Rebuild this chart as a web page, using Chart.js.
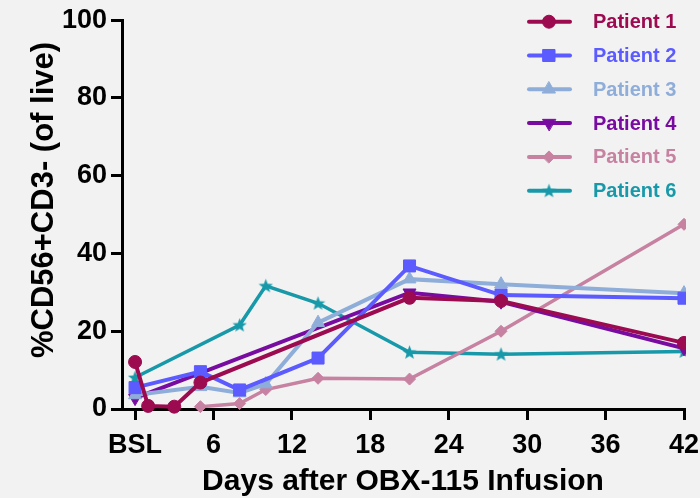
<!DOCTYPE html>
<html>
<head>
<meta charset="utf-8">
<script src="https://cdn.jsdelivr.net/npm/chart.js@4/dist/chart.umd.min.js"></script>
<style>
  body { margin: 0; background: #f2f2f2; }
  canvas { display: block; }
</style>
</head>
<body>
<canvas id="chart" width="700" height="498"></canvas>
<script>
// データ
const patientNames = ['Patient 1', 'Patient 2', 'Patient 3', 'Patient 4', 'Patient 5', 'Patient 6'];
const p1Days = [0, 1, 3, 5, 21, 28, 42];
const p1Vals = [12.1, 0.8, 0.6, 6.8, 28.6, 27.8, 17.0];
const p2Days = [0, 5, 8, 14, 21, 28, 42];
const p2Vals = [5.5, 9.6, 4.9, 13.1, 36.8, 29.3, 28.5];
const p3Days = [0, 5, 8, 10, 14, 21, 28, 42];
const p3Vals = [3.6, 5.7, 4.1, 6.4, 22.2, 33.4, 32.1, 29.8];
const p4Days = [0, 21, 28, 42];
const p4Vals = [2.8, 29.9, 27.6, 15.6];
const p5Days = [5, 8, 10, 14, 21, 28, 42];
const p5Vals = [0.6, 1.4, 5.0, 7.9, 7.7, 20.0, 47.5];
const p6Days = [0, 8, 10, 14, 21, 28, 42];
const p6Vals = [8.1, 21.6, 31.7, 27.2, 14.6, 14.1, 14.8];

const xTickValues = [0, 6, 12, 18, 24, 30, 36, 42];
const xTickLabels = ['BSL', '6', '12', '18', '24', '30', '36', '42'];
const yTitle = '%CD56+CD3- (of live)';
const xTitle = 'Days after OBX-115 Infusion';

const FONT = '"Liberation Sans", Arial, sans-serif';

// 星形マーカー用の画像
function makeStar(color, size) {
  const c = document.createElement('canvas');
  c.width = size;
  c.height = size;
  const g = c.getContext('2d');
  const cx = size / 2, cy = size / 2 + 0.5;
  const outer = size / 2, inner = outer * 0.42;
  g.beginPath();
  for (let i = 0; i < 10; i++) {
    const r = i % 2 === 0 ? outer : inner;
    const a = -Math.PI / 2 + i * Math.PI / 5;
    g.lineTo(cx + r * Math.cos(a), cy + r * Math.sin(a));
  }
  g.closePath();
  g.fillStyle = color;
  g.fill();
  return c;
}

const toPoints = (days, vals) => days.map((d, i) => ({ x: d, y: vals[i] }));

const series = [
  { days: p1Days, vals: p1Vals, color: '#9c0a50', style: 'circle', radius: 6.5, rotation: 0, width: 4 },
  { days: p2Days, vals: p2Vals, color: '#5b5bff', style: 'rect', radius: 8.5, rotation: 0, width: 4 },
  { days: p3Days, vals: p3Vals, color: '#8fadd9', style: 'triangle', radius: 7.5, rotation: 0, width: 4 },
  { days: p4Days, vals: p4Vals, color: '#780ca0', style: 'triangle', radius: 7.5, rotation: 180, width: 4 },
  { days: p5Days, vals: p5Vals, color: '#c781a1', style: 'rectRot', radius: 6, rotation: 0, width: 3.5 },
  { days: p6Days, vals: p6Vals, color: '#1799a9', style: null, radius: 7, rotation: 0, width: 3.5 }
];
series[5].style = makeStar(series[5].color, 15);

const datasets = series.map((s, i) => ({
  label: patientNames[i],
  data: toPoints(s.days, s.vals),
  borderColor: s.color,
  backgroundColor: s.color,
  borderWidth: s.width,
  pointStyle: s.style,
  pointRadius: s.radius,
  pointRotation: s.rotation,
  pointBorderWidth: 1,
  pointBackgroundColor: s.color,
  pointBorderColor: s.color,
  tension: 0,
  clip: { left: 12, top: 12, right: 2, bottom: 12 }
}));

// 凡例（線＋マーカー＋色付き文字）と縦軸タイトル
const legendPlugin = {
  id: 'lineLegend',
  afterDraw(chart) {
    const ctx = chart.ctx;
    ctx.save();
    series.forEach((s, i) => {
      const y = 21.7 + i * 33.8;
      ctx.strokeStyle = s.color;
      ctx.fillStyle = s.color;
      ctx.lineWidth = 4;
      ctx.lineCap = 'round';
      ctx.beginPath();
      ctx.moveTo(529, y);
      ctx.lineTo(570, y);
      ctx.stroke();
      ctx.lineWidth = 1;
      Chart.helpers.drawPoint(ctx, {
        pointStyle: s.style,
        radius: s.radius,
        rotation: s.rotation,
        borderWidth: 1
      }, 549, y);
      ctx.font = 'bold 20px ' + FONT;
      ctx.textBaseline = 'middle';
      ctx.textAlign = 'left';
      ctx.fillText(patientNames[i], 593, y + 1);
    });

    // 縦軸タイトル（少し上寄り）
    ctx.translate(44, 200);
    ctx.rotate(-Math.PI / 2);
    ctx.fillStyle = '#000';
    ctx.font = 'bold 31px ' + FONT;
    ctx.textAlign = 'center';
    ctx.textBaseline = 'middle';
    ctx.fillText(yTitle, 0, 0);
    ctx.restore();
  }
};

new Chart(document.getElementById('chart'), {
  type: 'line',
  data: { datasets: datasets },
  options: {
    responsive: false,
    animation: false,
    layout: { padding: { top: 20, right: 16, bottom: 0, left: 0 } },
    plugins: {
      legend: { display: false },
      tooltip: { enabled: false }
    },
    scales: {
      x: {
        type: 'linear',
        min: -1,
        max: 42,
        afterBuildTicks: (scale) => {
          scale.ticks = xTickValues.map(v => ({ value: v }));
        },
        afterFit: (scale) => {
          // 右端の「42」は元図と同じくはみ出させる
          scale.height = 89;
          scale.paddingLeft = 0;
          scale.paddingRight = 0;
        },
        ticks: {
          color: '#000',
          font: { family: FONT, size: 27, weight: 'bold' },
          padding: 9,
          maxRotation: 0,
          autoSkip: false,
          callback: (value) => xTickLabels[xTickValues.indexOf(value)]
        },
        grid: { drawOnChartArea: false, drawTicks: true, tickLength: 11, color: '#000', lineWidth: 3 },
        border: { color: '#000', width: 3 },
        title: {
          display: true,
          text: xTitle,
          color: '#000',
          font: { family: FONT, size: 30, weight: 'bold' },
          padding: { top: 0, bottom: -2 }
        }
      },
      y: {
        min: 0,
        max: 100,
        afterFit: (scale) => { scale.width = 122; },
        ticks: {
          stepSize: 20,
          color: '#000',
          font: { family: FONT, size: 27, weight: 'bold' },
          padding: 4
        },
        grid: { drawOnChartArea: false, drawTicks: true, tickLength: 11, color: '#000', lineWidth: 3 },
        border: { color: '#000', width: 3 },
        title: { display: false }
      }
    }
  },
  plugins: [legendPlugin]
});
</script>
</body>
</html>
